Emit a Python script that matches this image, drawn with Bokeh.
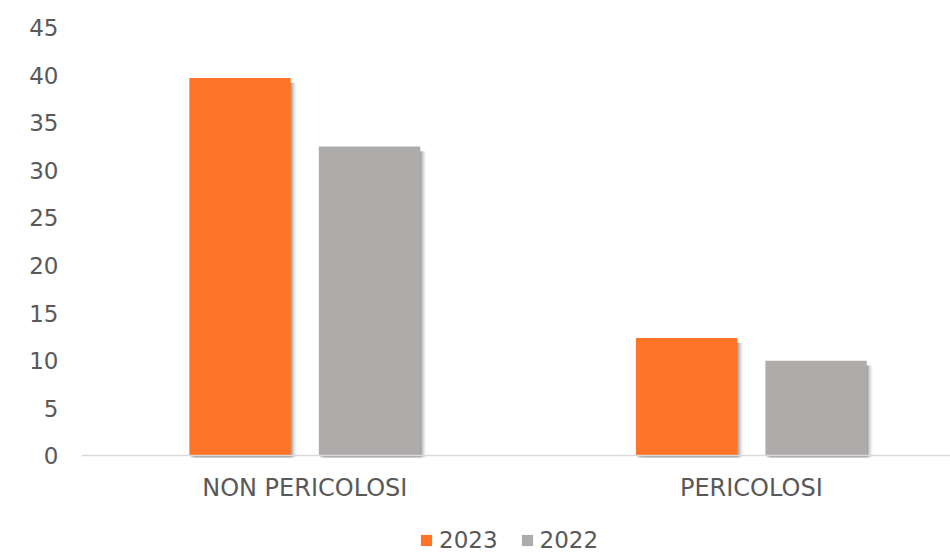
from bokeh.plotting import figure
from bokeh.models import Range1d, FixedTicker, Legend, LegendItem, ColumnDataSource
from bokeh.embed import file_html
from bokeh.resources import INLINE
import numpy as np

categories = ["NON PERICOLOSI", "PERICOLOSI"]
series_names = ["2023", "2022"]
values_2023 = [39.7, 12.4]
values_2022 = [32.5, 10.0]
y_ticks = [0, 5, 10, 15, 20, 25, 30, 35, 40, 45]

COLORS = {"2023": "#FF7426", "2022": "#AEABAB"}
TEXT = "#595959"
FONT = "DejaVu Sans"

idx = np.arange(len(categories)) + 0.5
offset = 0.145
bar_w = 0.227

p = figure(width=950, height=553, output_backend="svg", toolbar_location=None,
           x_range=Range1d(0, 1.946), y_range=Range1d(-10.24, 45))
p.min_border_left = 81
p.min_border_right = 0
p.min_border_top = 27
p.min_border_bottom = 0
p.outline_line_color = None
p.xgrid.visible = False
p.ygrid.visible = False
p.background_fill_color = "white"
p.border_fill_color = "white"

renderers = {}
for name, vals, dx in [("2023", values_2023, -offset), ("2022", values_2022, offset)]:
    xs = idx + dx
    # soft shadow layers
    for k, a in [(1, 0.14), (2, 0.11), (3, 0.08), (4, 0.05), (5, 0.03)]:
        src = ColumnDataSource(dict(x=xs + k * 1.2 / 446, top=np.array(vals) - 0.5))
        p.vbar(x="x", top="top", bottom=-0.15, width=bar_w, source=src,
               fill_color="black", fill_alpha=a, line_color=None)
    src = ColumnDataSource(dict(x=xs, top=vals))
    renderers[name] = p.vbar(x="x", top="top", bottom=0, width=bar_w, source=src,
                             fill_color=COLORS[name], line_color=None)

# x axis, pinned at y = 0
p.xaxis.fixed_location = 0
p.xaxis.ticker = FixedTicker(ticks=list(idx))
p.xaxis.major_label_overrides = {float(v): c for v, c in zip(idx, categories)}
p.xaxis.axis_line_color = "#D9D9D9"
p.xaxis.axis_line_width = 1.5
p.xaxis.major_tick_line_color = None
p.xaxis.minor_tick_line_color = None
p.xaxis.major_label_text_font = FONT
p.xaxis.major_label_text_font_size = "24px"
p.xaxis.major_label_text_color = TEXT
p.xaxis.major_label_standoff = 12

# y axis
p.yaxis.ticker = FixedTicker(ticks=y_ticks)
p.yaxis.axis_line_color = None
p.yaxis.major_tick_line_color = None
p.yaxis.minor_tick_line_color = None
p.yaxis.major_label_text_font = FONT
p.yaxis.major_label_text_font_size = "23px"
p.yaxis.major_label_text_color = TEXT
p.yaxis.major_label_standoff = 17

legend = Legend(items=[LegendItem(label=n, renderers=[renderers[n]]) for n in series_names],
                orientation="horizontal", location=(338, 0),
                glyph_width=14, glyph_height=14, label_height=14, label_standoff=6,
                spacing=22, padding=0, margin=0,
                border_line_color=None, background_fill_alpha=0,
                label_text_font=FONT, label_text_font_size="23px", label_text_color=TEXT)
p.add_layout(legend)

open("out.html", "w").write(file_html(p, INLINE))
